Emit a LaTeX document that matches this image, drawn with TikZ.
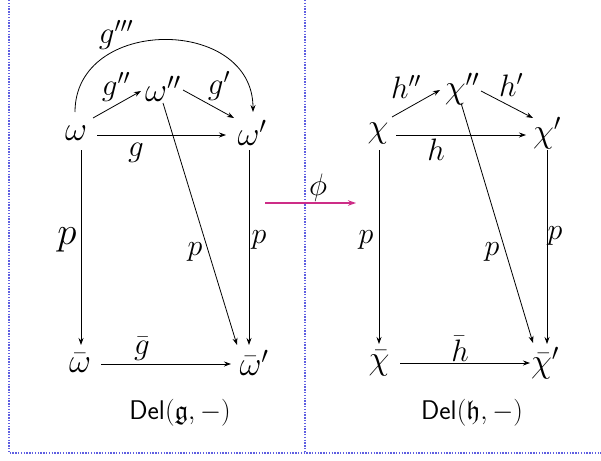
\RequirePackage{fix-cm}
\documentclass[tikz,border=0pt]{standalone}
\usepackage{amssymb}
\usetikzlibrary{arrows.meta}
\definecolor{framecol}{RGB}{95,95,225}
\definecolor{phicol}{RGB}{205,45,135}
\tikzset{
  obj/.style={inner sep=0pt, font=\fontsize{34}{38}\selectfont},
  lab/.style={inner sep=0pt, font=\fontsize{31}{34}\selectfont},
  smalllab/.style={inner sep=0pt, font=\fontsize{30}{33}\selectfont},
  biglab/.style={inner sep=0pt, font=\fontsize{39}{42}\selectfont},
  captext/.style={inner sep=0pt, font=\fontsize{27}{30}\selectfont},
  arr/.style={-{Stealth[length=7pt,width=5pt]}, line width=0.8pt},
  framel/.style={draw=framecol, line width=1.4pt, dash pattern=on 1.4pt off 1.4pt},
}
\begin{document}
\begin{tikzpicture}[x=1pt,y=-1pt]
\useasboundingbox (0,0) rectangle (601,460);
% frame
\draw[framel] (9,0) -- (9,453) -- (601,453);
\draw[framel] (305,0) -- (305,453);
% left diagram
\node[obj] (w) at (76,133) {$\omega$};
\node[obj] (w1) at (252,133) {$\omega'$};
\node[obj] (w2) at (163,89) {$\omega''$};
\node[obj] (wb) at (80,363) {$\bar\omega$};
\node[obj] (wb1) at (254,363) {$\bar\omega'$};
\draw[arr] ([shift={(17,-15)}]w.center) -- ([shift={(-22,2)}]w2.center);
\draw[arr] ([shift={(20,1)}]w2.center) -- ([shift={(-18,-15)}]w1.center);
\draw[arr] ([shift={(21,2)}]w.center) -- ([shift={(-26,2)}]w1.center);
\draw[arr] ([shift={(-1,-21)}]w.center) .. controls ([shift={(-1,-117)}]w.center) and ([shift={(1,-117)}]w1.center) .. ([shift={(1,-21)}]w1.center);
\draw[arr] ([shift={(0,14)}]w2.center) -- ([shift={(-17,-18)}]wb1.center);
\draw[arr] ([shift={(5,17)}]w.center) -- ([shift={(1,-18)}]wb.center);
\draw[arr] ([shift={(-3,17)}]w1.center) -- ([shift={(-5,-18)}]wb1.center);
\draw[arr] ([shift={(21,1)}]wb.center) -- ([shift={(-23,1)}]wb1.center);
\node[lab] (lg3) at (116,35) {$g'''$};
\node[lab] (lg2) at (116,87) {$g''$};
\node[lab] (lg1) at (219,86) {$g'$};
\node[lab] (lg) at (136,153) {$g$};
\node[lab] (lgb) at (142,349) {$\bar g$};
\node[biglab] (lp1) at (67,240) {$p$};
\node[smalllab] (lp2) at (195,252) {$p$};
\node[smalllab] (lp3) at (259,240) {$p$};
\node[captext] (delg) at (180,413) {$\mathsf{Del}(\mathfrak{g},-)$};
% right diagram
\node[obj] (x) at (378,133) {$\chi$};
\node[obj] (x1) at (547,133) {$\chi'$};
\node[obj] (x2) at (462,89) {$\chi''$};
\node[obj] (xb) at (379,363) {$\bar\chi$};
\node[obj] (xb1) at (545,363) {$\bar\chi'$};
\draw[arr] ([shift={(14,-16)}]x.center) -- ([shift={(-22,1)}]x2.center);
\draw[arr] ([shift={(19,2)}]x2.center) -- ([shift={(-14,-15)}]x1.center);
\draw[arr] ([shift={(18,2)}]x.center) -- ([shift={(-21,2)}]x1.center);
\draw[arr] ([shift={(-1,14)}]x2.center) -- ([shift={(-12,-20)}]xb1.center);
\draw[arr] ([shift={(1,17)}]x.center) -- ([shift={(0,-19)}]xb.center);
\draw[arr] ([shift={(0,17)}]x1.center) -- ([shift={(2,-19)}]xb1.center);
\draw[arr] ([shift={(21,0)}]xb.center) -- ([shift={(-15,0)}]xb1.center);
\node[lab] (lh2) at (406,87) {$h''$};
\node[lab] (lh1) at (511,85) {$h'$};
\node[lab] (lh) at (436,150) {$h$};
\node[lab] (lhb) at (460,349) {$\bar h$};
\node[smalllab] (lq1) at (366,240) {$p$};
\node[smalllab] (lq2) at (492,252) {$p$};
\node[smalllab] (lq3) at (555,236) {$p$};
\node[captext] (delh) at (472,413) {$\mathsf{Del}(\mathfrak{h},-)$};
% phi
\coordinate (phiS) at (265,203);
\coordinate (phiE) at (356,203);
\draw[-{Stealth[length=8pt,width=5.5pt]}, draw=phicol, fill=phicol, line width=1.3pt] (phiS) -- (phiE);
\node[lab] (lphi) at (318,188) {$\phi$};
\end{tikzpicture}
\end{document}
